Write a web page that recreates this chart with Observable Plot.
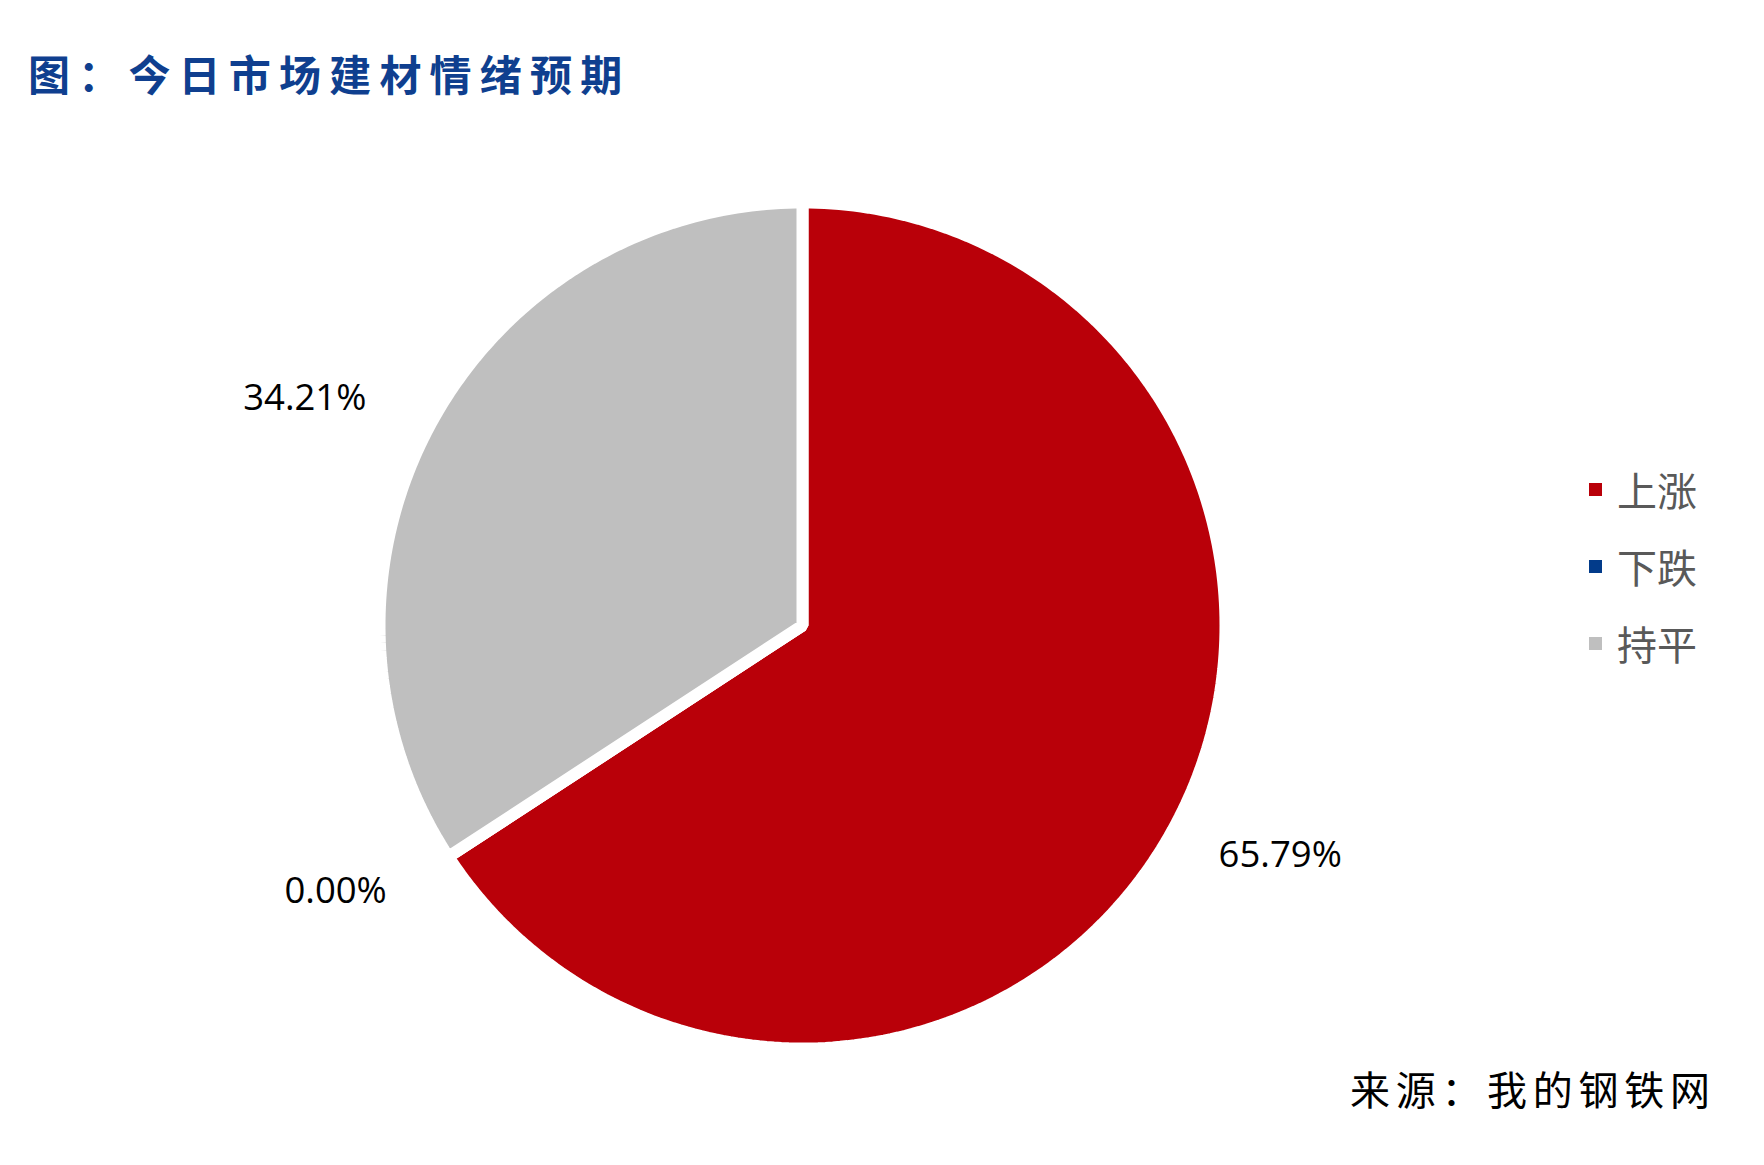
<!DOCTYPE html>
<html>
<head>
<meta charset="utf-8">
<script src="https://cdn.jsdelivr.net/npm/d3@7"></script>
<script src="https://cdn.jsdelivr.net/npm/@observablehq/plot@0.6"></script>
<style>
  html, body { margin: 0; padding: 0; background: #ffffff; }
  #page { position: relative; width: 1764px; height: 1165px; overflow: hidden; background: #ffffff; }
  #chart { position: absolute; left: 0; top: 0; }
  #title { position: absolute; left: 28px; top: 52px; font-family: "Noto Sans CJK SC", sans-serif; font-weight: 700; font-size: 42px; line-height: 42px; letter-spacing: 8.2px; color: #0f3f8f; white-space: nowrap; }
  #source { position: absolute; left: 1350px; top: 1068px; font-family: "Noto Sans CJK SC", sans-serif; font-weight: 400; font-size: 40px; line-height: 40px; letter-spacing: 5.7px; color: #000000; white-space: nowrap; }
  .lg { position: absolute; left: 1589px; height: 44px; display: flex; align-items: center; font-family: "Noto Sans CJK SC", sans-serif; font-size: 40px; color: #595959; white-space: nowrap; }
  .lg .sw { width: 13px; height: 13px; margin-right: 15px; }
</style>
</head>
<body>
<div id="page">
  <div id="chart"></div>
  <div id="title">图：今日市场建材情绪预期</div>
  <div id="legend"></div>
  <div id="source">来源：我的钢铁网</div>
</div>
<script>
// ---- data ----
const categories = ["上涨", "下跌", "持平"];
const shares = [65.79, 0.00, 34.21];
const colors = ["#B90009", "#023B8A", "#BFBFBF"];

// ---- layout ----
const W = 1764, H = 1165;
const cx = 802, cy = 625, R = 423;   // pixel centre and radius (incl. half of the white border)
const labelRadius = 1.14;             // in radius units

const rows = categories.map((c, i) => ({cat: c, share: shares[i]}));
const arcs = d3.pie().sort(null).value(d => d.share).startAngle(0).endAngle(2 * Math.PI)(rows);

// polygon points for each slice (data space: unit circle, y up, angle clockwise from 12 o'clock)
const pts = [];
arcs.forEach(a => {
  const cat = a.data.cat;
  pts.push({cat, x: 0, y: 0});
  const n = Math.max(1, Math.ceil((a.endAngle - a.startAngle) / (Math.PI / 180)));
  for (let k = 0; k <= n; k++) {
    const t = a.startAngle + (a.endAngle - a.startAngle) * k / n;
    pts.push({cat, x: Math.sin(t), y: Math.cos(t)});
  }
});

const labels = arcs.map(a => {
  const m = (a.startAngle + a.endAngle) / 2;
  return {cat: a.data.cat, text: a.data.share.toFixed(2) + "%", x: labelRadius * Math.sin(m), y: labelRadius * Math.cos(m), right: Math.sin(m) > 0};
});

const plot = Plot.plot({
  width: W,
  height: H,
  margin: 0,
  style: {background: "transparent", overflow: "visible"},
  x: {domain: [-cx / R, (W - cx) / R], axis: null},
  y: {domain: [-(H - cy) / R, cy / R], axis: null},
  color: {domain: categories, range: colors},
  marks: [
    Plot.line(pts, {x: "x", y: "y", z: "cat", fill: "cat", stroke: "white", strokeWidth: 12, strokeLinejoin: "miter", curve: "linear-closed"}),
    Plot.text(labels.filter(d => d.right), {x: "x", y: "y", text: "text", textAnchor: "start", dx: -8, fontSize: 36.5, fontFamily: "'Open Sans', sans-serif", fill: "#000"}),
    Plot.text(labels.filter(d => !d.right), {x: "x", y: "y", text: "text", textAnchor: "end", dx: -12, dy: 2, fontSize: 36.5, fontFamily: "'Open Sans', sans-serif", fill: "#000"})
  ]
});
document.getElementById("chart").appendChild(plot);

// legend
const legend = document.getElementById("legend");
categories.forEach((c, i) => {
  const row = document.createElement("div");
  row.className = "lg";
  row.style.top = (489 + i * 77 - 22) + "px";
  const sw = document.createElement("div");
  sw.className = "sw";
  sw.style.background = colors[i];
  const tx = document.createElement("span");
  tx.textContent = c;
  row.appendChild(sw);
  row.appendChild(tx);
  legend.appendChild(row);
});
</script>
</body>
</html>
